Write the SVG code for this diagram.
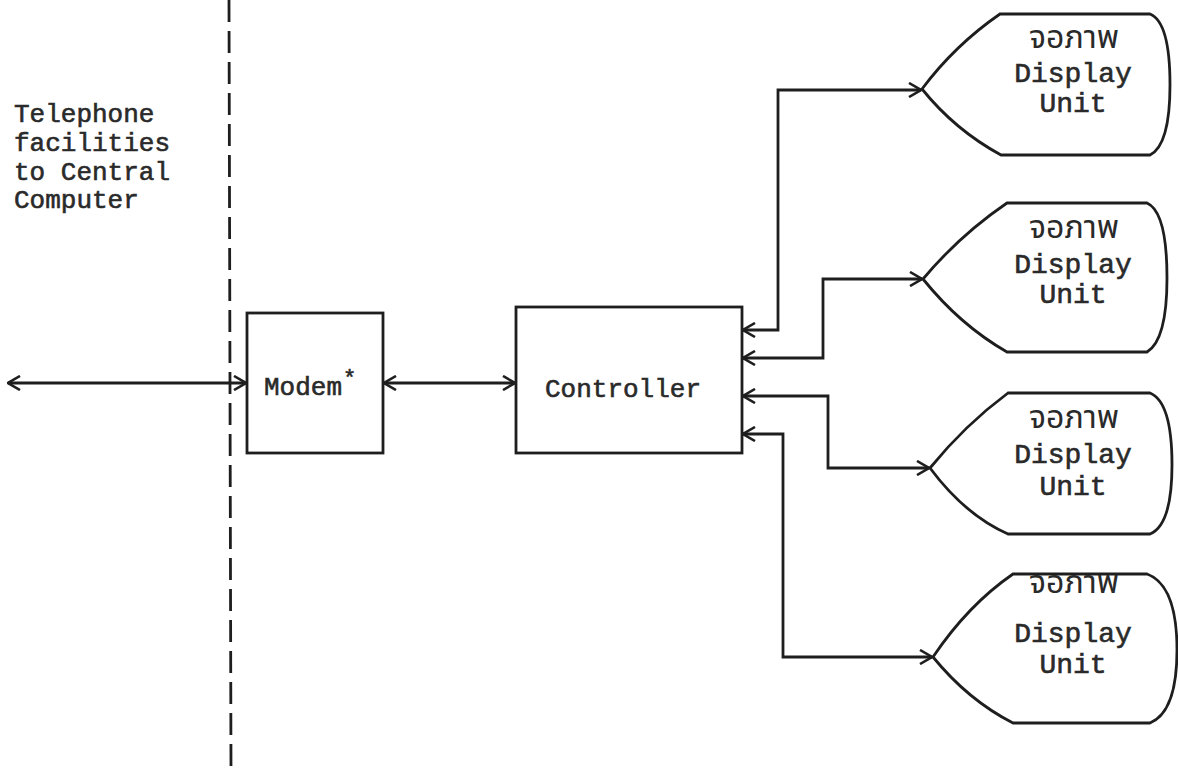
<svg xmlns="http://www.w3.org/2000/svg" width="1178" height="773" viewBox="0 0 1178 773">
<defs>
<marker id="arr" viewBox="0 0 14 16" refX="13" refY="8" markerWidth="14" markerHeight="16" markerUnits="userSpaceOnUse" orient="auto-start-reverse">
<path d="M1,1 L13,8 L1,15" fill="none" stroke="#1e1e1e" stroke-width="2.6"/>
</marker>
<style>
.ln{fill:none;stroke:#1e1e1e;stroke-width:2.8;stroke-linejoin:miter}
.box{fill:none;stroke:#1e1e1e;stroke-width:2.8}
.t{font-family:"Liberation Mono","Courier New",monospace;font-size:26px;fill:#2a2a2a;stroke:#2a2a2a;stroke-width:0.6}
.d{font-family:"Liberation Mono","Courier New",monospace;font-size:28px;fill:#2a2a2a;stroke:#2a2a2a;stroke-width:0.6;text-anchor:middle}
.th{font-family:"Noto Sans Thai","Noto Serif Thai","Liberation Mono","DejaVu Sans",sans-serif;font-size:32px;fill:#2a2a2a;text-anchor:middle}
</style>
</defs>
<rect width="1178" height="773" fill="#ffffff"/>
<g id="boundary">
<line x1="229" y1="0" x2="231" y2="773" stroke="#1e1e1e" stroke-width="2.8" stroke-dasharray="22 9"/>
</g>
<g id="telephone-label">
<text class="t" x="14" y="122">Telephone</text>
<text class="t" x="14" y="151">facilities</text>
<text class="t" x="14" y="180">to Central</text>
<text class="t" x="14" y="208">Computer</text>
</g>
<g id="modem">
<rect class="box" x="247" y="313" width="136" height="140"/>
<text class="t" x="264" y="395">Modem</text>
<text class="t" x="343" y="385" style="font-size:22px">*</text>
</g>
<g id="controller">
<rect class="box" x="516" y="307" width="226" height="146"/>
<text class="t" x="545" y="397">Controller</text>
</g>
<g id="display1">
<path class="ln" d="M922,89 Q955,45 1000,14 L1150,14 Q1170,22 1170,85 Q1170,145 1150,155 L1001,155 Q955,130 922,89 Z"/>
<text class="th" x="1074" y="48">จอภาพ</text>
<text class="d" x="1073" y="82">Display</text>
<text class="d" x="1073" y="112">Unit</text>
</g>
<g id="display2">
<path class="ln" d="M923,279 Q960,235 1007,203 L1147,203 Q1167,212 1167,278 Q1167,340 1147,352 L1007,352 Q960,325 923,279 Z"/>
<text class="th" x="1074" y="238">จอภาพ</text>
<text class="d" x="1073" y="273">Display</text>
<text class="d" x="1073" y="303">Unit</text>
</g>
<g id="display3">
<path class="ln" d="M930,468 Q965,425 1008,393 L1150,393 Q1172,402 1172,465 Q1172,525 1150,534 L1008,534 Q965,515 930,468 Z"/>
<text class="th" x="1074" y="428">จอภาพ</text>
<text class="d" x="1073" y="463">Display</text>
<text class="d" x="1073" y="495">Unit</text>
</g>
<g id="display4">
<path class="ln" d="M933,657 Q968,605 1013,574 L1147,574 Q1177,585 1177,650 Q1177,712 1150,723 L1013,723 Q968,700 933,657 Z"/>
<text class="th" x="1074" y="593">จอภาพ</text>
<text class="d" x="1073" y="642">Display</text>
<text class="d" x="1073" y="673">Unit</text>
</g>
<g id="connectors">
<path class="ln" d="M8,383 H246" marker-start="url(#arr)" marker-end="url(#arr)"/>
<path class="ln" d="M384,383 H515" marker-start="url(#arr)" marker-end="url(#arr)"/>
<path class="ln" d="M743,330 H778 V90 H921" marker-start="url(#arr)" marker-end="url(#arr)"/>
<path class="ln" d="M743,358 H823 V279 H922" marker-start="url(#arr)" marker-end="url(#arr)"/>
<path class="ln" d="M743,396 H828 V468 H929" marker-start="url(#arr)" marker-end="url(#arr)"/>
<path class="ln" d="M743,434 H783 V657 H932" marker-start="url(#arr)" marker-end="url(#arr)"/>
</g>
</svg>
